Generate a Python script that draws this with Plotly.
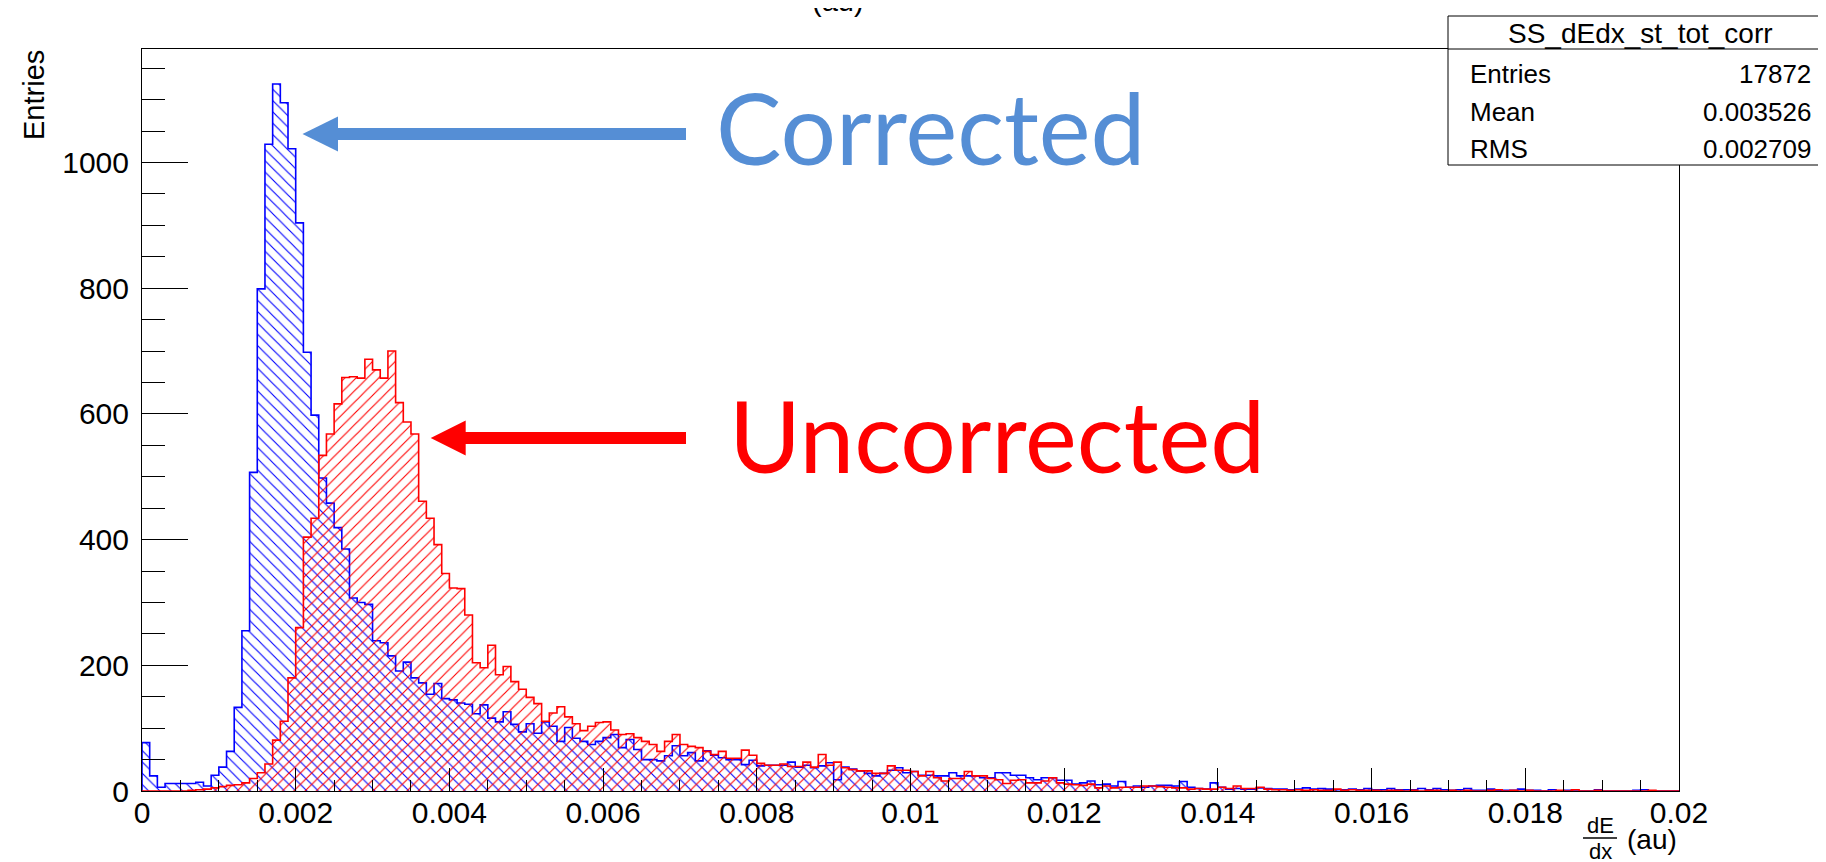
import numpy as np
import plotly.graph_objects as go

# ---------------- data ----------------
x_min, x_max, n_bins = 0.0, 0.02, 200

corrected_counts = [
    77, 24, 6, 12, 12, 12, 12, 14, 8, 25,
    38, 63, 133, 255, 507, 799, 1029, 1125, 1095, 1022,
    904, 698, 598, 498, 458, 419, 385, 307, 300, 297,
    239, 236, 215, 191, 205, 180, 172, 154, 171, 147,
    145, 140, 138, 123, 137, 116, 110, 126, 106, 94,
    107, 92, 110, 103, 79, 101, 84, 79, 74, 79,
    85, 90, 69, 82, 66, 50, 50, 48, 56, 72,
    56, 61, 48, 64, 57, 53, 50, 50, 42, 49,
    40, 41, 41, 41, 46, 38, 41, 37, 40, 45,
    18, 38, 35, 32, 28, 24, 28, 33, 37, 29,
    31, 25, 25, 24, 24, 29, 24, 24, 24, 21,
    21, 29, 29, 25, 25, 21, 18, 21, 21, 17,
    17, 11, 13, 16, 10, 11, 8, 15, 6, 8,
    6, 8, 9, 9, 8, 15, 6, 4, 3, 13,
    6, 3, 4, 3, 3, 5, 4, 3, 3, 2,
    3, 5, 3, 4, 3, 2, 2, 3, 2, 4,
    2, 2, 4, 2, 2, 2, 4, 2, 4, 2,
    1, 2, 4, 1, 1, 3, 1, 1, 1, 3,
    1, 1, 0, 2, 0, 1, 0, 0, 0, 2,
    0, 0, 0, 0, 1, 2, 0, 0, 0, 0,
]

uncorrected_counts = [
    0, 0, 0, 0, 0, 0, 1, 2, 3, 5,
    7, 9, 10, 13, 20, 29, 43, 81, 111, 180,
    260, 404, 434, 534, 568, 616, 658, 659, 657, 687,
    670, 657, 700, 618, 587, 568, 461, 434, 392, 346,
    323, 322, 280, 204, 196, 232, 185, 198, 174, 162,
    149, 139, 111, 124, 134, 118, 107, 96, 103, 109,
    110, 97, 90, 91, 85, 79, 74, 63, 79, 90,
    74, 71, 69, 63, 58, 63, 52, 52, 65, 57,
    44, 41, 41, 43, 39, 39, 46, 38, 58, 41,
    46, 37, 34, 32, 32, 28, 28, 40, 33, 33,
    31, 24, 31, 21, 16, 20, 20, 31, 24, 24,
    20, 18, 12, 17, 18, 13, 13, 16, 21, 13,
    11, 10, 9, 11, 5, 8, 5, 6, 6, 6,
    8, 8, 7, 6, 5, 5, 3, 4, 3, 3,
    6, 4, 8, 4, 4, 6, 3, 2, 2, 1,
    2, 1, 2, 1, 1, 3, 1, 2, 1, 1,
    1, 0, 1, 1, 0, 1, 0, 1, 1, 0,
    1, 0, 1, 0, 0, 1, 2, 0, 1, 0,
    1, 0, 0, 0, 1, 0, 2, 0, 0, 1,
    0, 0, 0, 0, 0, 0, 1, 0, 0, 0,
]

x_tickvals = [0, 0.002, 0.004, 0.006, 0.008, 0.01, 0.012, 0.014, 0.016, 0.018, 0.02]
x_ticktext = ["0", "0.002", "0.004", "0.006", "0.008", "0.01", "0.012", "0.014", "0.016", "0.018", "0.02"]
y_tickvals = [0, 200, 400, 600, 800, 1000]

stats_title = "SS_dEdx_st_tot_corr"
stats_names = ["Entries", "Mean", "RMS"]
stats_values = ["17872", "0.003526", "0.002709"]

# ---------------- layout geometry ----------------
W, H = 1826, 862
L, R, T, B = 134, 155, 41, 79
PW, PH = W - L - R, H - T - B
Y_MAX = 1180.6


def px(x):
    return (x - L) / PW


def py(y):
    return (H - B - y) / PH


edges = np.linspace(x_min, x_max, n_bins + 1)


def step_xy(counts):
    xs = np.concatenate([[edges[0]], edges[:-1], [edges[-1]]])
    ys = np.concatenate([[0], np.asarray(counts, float), [0]])
    return xs, ys


fig = go.Figure()

for counts, col, shp in [(corrected_counts, "#0000ff", "\\"),
                         (uncorrected_counts, "#ff0000", "/")]:
    xs, ys = step_xy(counts)
    fig.add_trace(go.Scatter(
        x=xs, y=ys, mode="lines",
        line=dict(color=col, width=1.6, shape="hv"),
        fill="tozeroy", fillcolor="rgba(0,0,0,0)",
        fillpattern=dict(shape=shp, fgcolor=col, size=8, solidity=0.14,
                         fillmode="replace"),
        hoverinfo="skip", showlegend=False,
    ))

HELV = "Liberation Sans, Arial, sans-serif"
tick_font = dict(family=HELV, size=30, color="black")

fig.update_xaxes(
    range=[x_min, x_max], tickmode="array", tickvals=x_tickvals, ticktext=x_ticktext,
    ticks="inside", ticklen=23, tickwidth=1, tickcolor="black",
    minor=dict(tickmode="linear", tick0=0, dtick=0.0005, ticks="inside",
               ticklen=11, tickwidth=1, tickcolor="black", showgrid=False),
    showline=True, mirror=True, linecolor="black", linewidth=1,
    showgrid=False, zeroline=False, tickfont=tick_font, ticklabelstandoff=-5,
)
fig.update_yaxes(
    range=[0, Y_MAX], tickmode="array", tickvals=y_tickvals,
    ticks="inside", ticklen=46, tickwidth=1, tickcolor="black",
    minor=dict(tickmode="linear", tick0=0, dtick=50, ticks="inside",
               ticklen=23, tickwidth=1, tickcolor="black", showgrid=False),
    showline=True, mirror=True, linecolor="black", linewidth=1,
    showgrid=False, zeroline=False, tickfont=tick_font, ticklabelstandoff=6,
)

shapes = []
annotations = []

# ----- arrows -----
blue_c = "#558ED5"
red_c = "#FF0000"


def arrow(tip_x, y_c, head_base_x, tail_x, half_shaft, half_head, color):
    s = []
    s.append(dict(type="rect", xref="paper", yref="paper",
                  x0=px(head_base_x - 1), x1=px(tail_x),
                  y0=py(y_c + half_shaft), y1=py(y_c - half_shaft),
                  fillcolor=color, line=dict(width=0), layer="above"))
    path = "M {} {} L {} {} L {} {} Z".format(
        px(tip_x), py(y_c), px(head_base_x), py(y_c - half_head),
        px(head_base_x), py(y_c + half_head))
    s.append(dict(type="path", xref="paper", yref="paper", path=path,
                  fillcolor=color, line=dict(width=0), layer="above"))
    return s


shapes += arrow(294.5, 126, 330, 678, 6, 17.5, blue_c)
shapes += arrow(422.7, 430, 457.7, 678, 6, 17.5, red_c)

label_font = "Lato, Open Sans, sans-serif"
annotations.append(dict(text="Corrected", xref="paper", yref="paper",
                        x=px(706), y=py(119), xanchor="left", yanchor="middle",
                        showarrow=False, font=dict(family=label_font, size=98, color=blue_c)))
annotations.append(dict(text="Uncorrected", xref="paper", yref="paper",
                        x=px(719), y=py(427), xanchor="left", yanchor="middle",
                        showarrow=False, font=dict(family=label_font, size=98, color=red_c)))

# ----- stats box -----
bx0, bx1, by0, by1, bdiv = 1440, 1824, 8, 157, 41
shapes.append(dict(type="rect", xref="paper", yref="paper",
                   x0=px(bx0), x1=px(bx1), y0=py(by1), y1=py(by0),
                   fillcolor="white", line=dict(color="black", width=1), layer="above"))
shapes.append(dict(type="line", xref="paper", yref="paper",
                   x0=px(bx0), x1=px(bx1), y0=py(bdiv), y1=py(bdiv),
                   line=dict(color="black", width=1), layer="above"))
stat_font = dict(family=HELV, size=26, color="black")
annotations.append(dict(text=stats_title, xref="paper", yref="paper",
                        x=px((bx0 + bx1) / 2), y=py(25), xanchor="center", yanchor="middle",
                        showarrow=False, font=dict(family=HELV, size=28, color="black")))
for i, (n, v) in enumerate(zip(stats_names, stats_values)):
    yy = [66, 104, 141][i]
    annotations.append(dict(text=n, xref="paper", yref="paper", x=px(1460), y=py(yy),
                            xanchor="left", yanchor="middle", showarrow=False, font=stat_font))
    annotations.append(dict(text=v, xref="paper", yref="paper", x=px(1805), y=py(yy),
                            xanchor="right", yanchor="middle", showarrow=False, font=stat_font))

# ----- axis titles -----
annotations.append(dict(text="Entries", xref="paper", yref="paper", x=px(26), y=py(87),
                        xanchor="center", yanchor="middle", textangle=-90,
                        showarrow=False, font=dict(family=HELV, size=29, color="black")))
frac_font = dict(family=HELV, size=22, color="black")
annotations.append(dict(text="dE", xref="paper", yref="paper", x=px(1592), y=py(817),
                        xanchor="center", yanchor="middle", showarrow=False, font=frac_font))
annotations.append(dict(text="dx", xref="paper", yref="paper", x=px(1592), y=py(843),
                        xanchor="center", yanchor="middle", showarrow=False, font=frac_font))
shapes.append(dict(type="line", xref="paper", yref="paper",
                   x0=px(1575), x1=px(1609), y0=py(830), y1=py(830),
                   line=dict(color="black", width=1.5)))
annotations.append(dict(text="(au)", xref="paper", yref="paper", x=px(1617), y=py(831),
                        xanchor="left", yanchor="middle", showarrow=False,
                        font=dict(family=HELV, size=28, color="black")))

# ----- cut-off title at the top -----
annotations.append(dict(text="(au)", xref="paper", yref="paper", x=px(830), y=py(-7),
                        xanchor="center", yanchor="middle", showarrow=False,
                        font=dict(family=HELV, size=29, color="black")))

fig.update_layout(
    width=W, height=H, autosize=False,
    margin=dict(l=L, r=R, t=T, b=B, pad=0, autoexpand=False),
    paper_bgcolor="white", plot_bgcolor="white",
    shapes=shapes, annotations=annotations, showlegend=False,
)

fig.write_html("out.html")
